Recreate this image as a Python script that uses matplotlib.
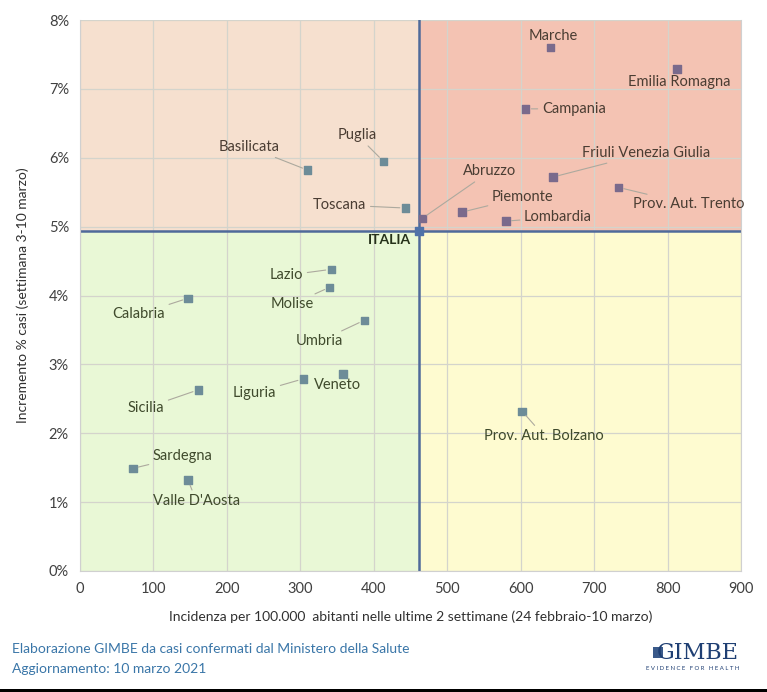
import numpy as np
import matplotlib.pyplot as plt

# incidenza per 100.000 (x) e incremento % casi (y)
regioni = ["Marche", "Emilia Romagna", "Campania", "Friuli Venezia Giulia",
           "Prov. Aut. Trento", "Abruzzo", "Piemonte", "Lombardia", "Toscana",
           "Puglia", "Basilicata", "Lazio", "Molise", "Umbria", "Veneto",
           "Liguria", "Calabria", "Sicilia", "Sardegna", "Valle D'Aosta",
           "Prov. Aut. Bolzano"]
incidenza = [641, 813, 607, 644, 733, 466, 520, 580, 443, 413, 310,
             342, 340, 387, 358, 304, 147, 161, 72, 147, 602]
incremento = [7.60, 7.29, 6.71, 5.72, 5.57, 5.12, 5.21, 5.08, 5.27, 5.95, 5.82,
              4.38, 4.12, 3.64, 2.86, 2.79, 3.96, 2.63, 1.49, 1.32, 2.32]
italia_x = 462
italia_y = 4.93

# label offsets in pixels (dx, dy, ha, leader line)
offsets = {
    "Marche": (2, 12, "center", False),
    "Emilia Romagna": (2, -13, "center", False),
    "Campania": (16, 0, "left", True),
    "Friuli Venezia Giulia": (29, 24, "left", True),
    "Prov. Aut. Trento": (15, -17, "left", True),
    "Abruzzo": (41, 47, "left", True),
    "Piemonte": (30, 15, "left", True),
    "Lombardia": (18, 4, "left", True),
    "Toscana": (-39, 3, "right", True),
    "Puglia": (-26, 26, "center", True),
    "Basilicata": (-28, 23, "right", True),
    "Lazio": (-28, -6, "right", True),
    "Molise": (-16, -17, "right", True),
    "Umbria": (-21, -21, "right", True),
    "Veneto": (-5, -11, "center", False),
    "Liguria": (-27, -14, "right", True),
    "Calabria": (-23, -16, "right", True),
    "Sicilia": (-34, -18, "right", True),
    "Sardegna": (20, 12, "left", True),
    "Valle D'Aosta": (-35, -21, "left", True),
    "Prov. Aut. Bolzano": (22, -25, "center", True),
}

plt.rcParams['font.family'] = ['Lato', 'DejaVu Sans']

fig = plt.figure(figsize=(7.67, 6.92), dpi=100)
ax = fig.add_axes([80 / 767, 1 - 571 / 692, 661 / 767, 551 / 692])

x0, x1, y0, y1 = 0, 900, 0, 8
ax.fill_between([x0, italia_x], italia_y, y1, color="#f6e0cf", zorder=0, lw=0)
ax.fill_between([italia_x, x1], italia_y, y1, color="#f4c3b3", zorder=0, lw=0)
ax.fill_between([x0, italia_x], y0, italia_y, color="#e9f8d6", zorder=0, lw=0)
ax.fill_between([italia_x, x1], y0, italia_y, color="#fefbd0", zorder=0, lw=0)

ax.set_xlim(x0, x1)
ax.set_ylim(y0, y1)
ax.set_xticks(np.arange(0, 901, 100))
ax.set_yticks(np.arange(0, 9, 1))
ax.set_yticklabels([f"{v}%" for v in range(9)])
ax.grid(True, color="#d4d4cc", lw=0.9, zorder=1)
ax.tick_params(length=0, labelsize=10.5, colors="#404040", pad=8)
for s in ["left", "bottom", "right"]:
    ax.spines[s].set_color("#d0d0d0")
ax.spines["top"].set_visible(False)

ax.axvline(italia_x, color="#4f6a9a", lw=1.8, zorder=2)
ax.axhline(italia_y, color="#4f6a9a", lw=1.8, zorder=2)

colori = ["#7a6a8c" if (x > italia_x and y > italia_y) else "#6d8c98"
          for x, y in zip(incidenza, incremento)]
ax.scatter(incidenza, incremento, marker="s", s=28, c=colori, zorder=4)
ax.scatter([italia_x], [italia_y], marker="s", s=30, c="#4f72a8", zorder=5)

for nome, x, y in zip(regioni, incidenza, incremento):
    dx, dy, ha, linea = offsets[nome]
    col = "#4a3d33" if y > italia_y else "#3f4a2c"
    props = dict(arrowstyle="-", color="#aca99e", lw=0.8, shrinkA=1, shrinkB=4) if linea else None
    ax.annotate(nome, (x, y), xytext=(dx, dy), textcoords="offset pixels",
                ha=ha, va="center", fontsize=10.5, color=col,
                arrowprops=props, zorder=6)

ax.annotate("ITALIA", (italia_x, italia_y), xytext=(-8, -9), textcoords="offset pixels",
            ha="right", va="center", fontsize=10, fontweight="bold", color="#26321a", zorder=6)

ax.set_xlabel("Incidenza per 100.000  abitanti nelle ultime 2 settimane (24 febbraio-10 marzo)",
              fontsize=10, color="#303030", labelpad=10)
ax.set_ylabel("Incremento % casi (settimana 3-10 marzo)", fontsize=10, color="#303030", labelpad=14)

fig.text(12 / 767, 1 - 649 / 692, "Elaborazione GIMBE da casi confermati dal Ministero della Salute",
         fontsize=10, color="#3a76a8", va="center")
fig.text(12 / 767, 1 - 669 / 692, "Aggiornamento: 10 marzo 2021",
         fontsize=10, color="#3a76a8", va="center")

# logo
fig.text(739 / 767, 1 - 653 / 692, "GIMBE", fontsize=16, family="DejaVu Serif",
         color="#1f3f73", ha="right", va="center")
fig.text(739 / 767, 1 - 669 / 692, "E V I D E N C E   F O R   H E A L T H", fontsize=4.3,
         color="#1f3f73", ha="right", va="center")
fig.patches.append(plt.Rectangle((653 / 767, 1 - 658 / 692), 10 / 767, 11 / 692,
                                 transform=fig.transFigure, facecolor="#3a5a8a",
                                 edgecolor="none"))
fig.patches.append(plt.Rectangle((0, 0), 1, 3 / 692, transform=fig.transFigure,
                                 facecolor="black", edgecolor="none"))

fig.savefig("out.png", dpi=100)
